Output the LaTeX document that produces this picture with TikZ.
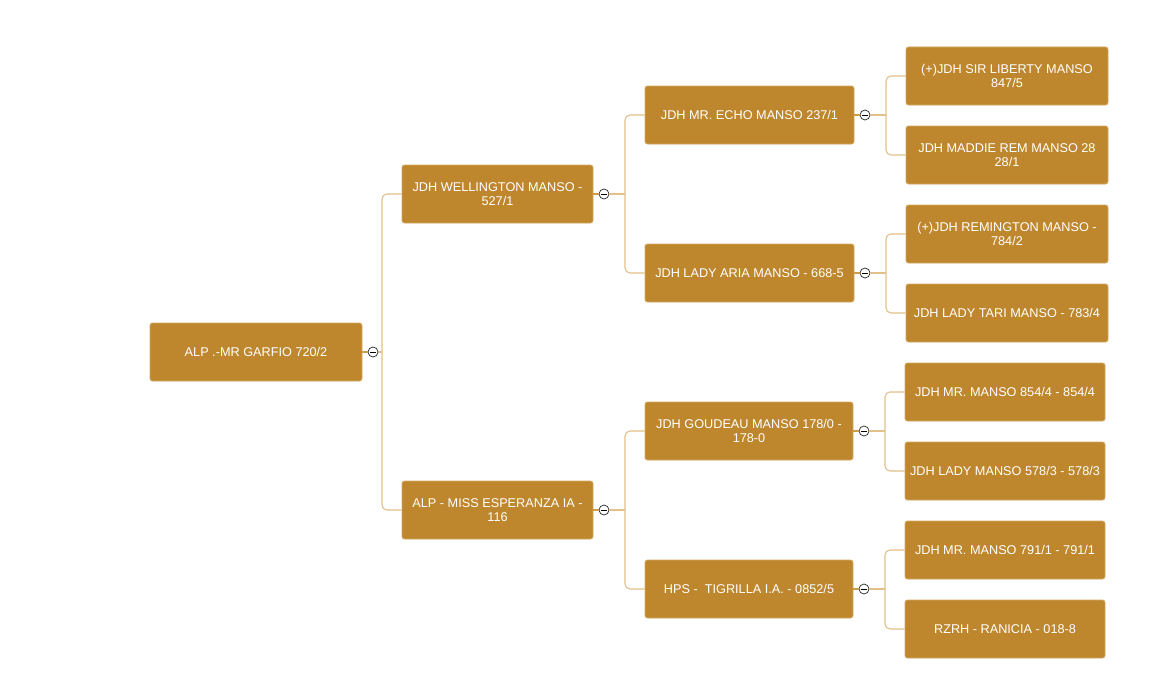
\documentclass[tikz,border=0pt]{standalone}
\usepackage{fontspec}
\setmainfont{Liberation Sans}
\definecolor{boxfill}{HTML}{BE872D}
\definecolor{boxline}{HTML}{D2A860}
\definecolor{conn}{HTML}{E2C08A}
\definecolor{stubc}{HTML}{CD9C48}
\tikzset{
  box/.style={draw=boxline, line width=0.8pt, fill=boxfill, rounded corners=2.5pt, minimum height=58pt, inner sep=0pt, align=center, text=white, font=\fontsize{12.7pt}{14pt}\selectfont},
  tog/.style={circle, draw=black!85, fill=white, line width=0.7pt, minimum size=10pt, inner sep=0pt},
  connl/.style={draw=conn, line width=1.1pt, rounded corners=5pt},
  stubl/.style={draw=stubc, line width=1.1pt},
}
\newcommand{\minus}[1]{\draw[black, line width=0.7pt] ([xshift=-2.6pt]#1.center) -- ([xshift=2.6pt]#1.center);}
\begin{document}
\begin{tikzpicture}[x=1pt,y=-1pt]
\useasboundingbox[fill=white] (0,0) rectangle (1161,677);
% nodes
\node[box, minimum width=212pt] (r) at (256,352) {ALP .-MR GARFIO 720/2};
\node[box, minimum width=191pt] (a) at (497.5,194) {JDH WELLINGTON MANSO -\\527/1};
\node[box, minimum width=191pt] (b) at (497.5,510) {ALP - MISS ESPERANZA IA -\\116};
\node[box, minimum width=209pt] (a1) at (749.5,115) {JDH MR. ECHO MANSO 237/1};
\node[box, minimum width=209pt] (a2) at (749.5,273) {JDH LADY ARIA MANSO - 668-5};
\node[box, minimum width=208pt] (b1) at (749,431) {JDH GOUDEAU MANSO 178/0 -\\178-0};
\node[box, minimum width=208pt] (b2) at (749,589) {HPS -\ \ TIGRILLA I.A. - 0852/5};
\node[box, minimum width=202pt] (a11) at (1007,76) {(+)JDH SIR LIBERTY MANSO\\847/5};
\node[box, minimum width=202pt] (a12) at (1007,155) {JDH MADDIE REM MANSO 28\\28/1};
\node[box, minimum width=202pt] (a21) at (1007,234) {(+)JDH REMINGTON MANSO -\\784/2};
\node[box, minimum width=202pt] (a22) at (1007,313) {JDH LADY TARI MANSO - 783/4};
\node[box, minimum width=200pt] (b11) at (1005,392) {JDH MR. MANSO 854/4 - 854/4};
\node[box, minimum width=200pt] (b12) at (1005,471) {JDH LADY MANSO 578/3 - 578/3};
\node[box, minimum width=200pt] (b21) at (1005,550) {JDH MR. MANSO 791/1 - 791/1};
\node[box, minimum width=200pt] (b22) at (1005,629) {RZRH - RANICIA - 018-8};
% toggles
\node[tog] (tr) at (373,352) {};
\node[tog] (ta) at (604,194) {};
\node[tog] (tb) at (604,510) {};
\node[tog] (ta1) at (865,115) {};
\node[tog] (ta2) at (865,273) {};
\node[tog] (tb1) at (864,431) {};
\node[tog] (tb2) at (864,589) {};
% split points
\coordinate (vr) at (382,352);
\coordinate (va) at (625,194);
\coordinate (vb) at (625,510);
\coordinate (va1) at (886,115);
\coordinate (va2) at (886,273);
\coordinate (vb1) at (885,431);
\coordinate (vb2) at (885,589);
% connectors
\foreach \p/\q in {r/tr, a/ta, b/tb, a1/ta1, a2/ta2, b1/tb1, b2/tb2}{
  \draw[stubl] (\p.east) -- (\q.west);
}
\foreach \q/\v in {tr/vr, ta/va, tb/vb, ta1/va1, ta2/va2, tb1/vb1, tb2/vb2}{
  \draw[connl] (\q.east) -- (\v);
}
\foreach \v/\c in {vr/a, vr/b, va/a1, va/a2, vb/b1, vb/b2, va1/a11, va1/a12, va2/a21, va2/a22, vb1/b11, vb1/b12, vb2/b21, vb2/b22}{
  \draw[connl] (\v) |- (\c.west);
}
\foreach \q in {tr, ta, tb, ta1, ta2, tb1, tb2}{
  \minus{\q}
}
\end{tikzpicture}
\end{document}
